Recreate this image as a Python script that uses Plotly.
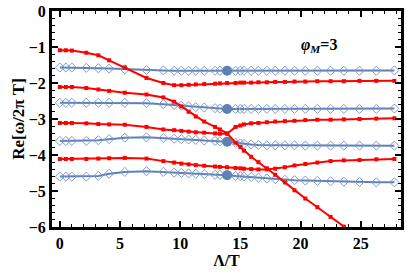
import plotly.graph_objects as go

lam = [0, 0.5, 1.0, 2.2, 3.2, 4.1, 5.4, 7.2, 8.6, 9.5, 10.1, 10.7, 11.3, 12.0, 12.9, 13.3, 13.9,
       14.6, 15.0, 15.3, 15.9, 16.5, 17.2, 17.9, 18.7, 19.5, 20.4, 21.4, 22.5, 23.6, 24.9, 26.3, 27.8]

blue1 = [-1.57, -1.57, -1.57, -1.58, -1.59, -1.60, -1.62, -1.64, -1.65, -1.66, -1.66, -1.66, -1.66,
         -1.66, -1.66, -1.66, -1.66, -1.66, -1.66, -1.66, -1.66, -1.66, -1.66, -1.66, -1.66, -1.66,
         -1.66, -1.66, -1.66, -1.66, -1.66, -1.66, -1.65]
blue2 = [-2.55, -2.55, -2.55, -2.55, -2.55, -2.55, -2.55, -2.56, -2.59, -2.61, -2.63, -2.65, -2.67,
         -2.68, -2.70, -2.71, -2.72, -2.72, -2.72, -2.72, -2.72, -2.72, -2.72, -2.72, -2.72, -2.72,
         -2.72, -2.72, -2.72, -2.72, -2.72, -2.72, -2.71]
blue3 = [-3.61, -3.61, -3.61, -3.61, -3.59, -3.56, -3.52, -3.51, -3.53, -3.55, -3.56, -3.57, -3.58,
         -3.60, -3.61, -3.62, -3.63, -3.66, -3.68, -3.69, -3.71, -3.72, -3.73, -3.73, -3.73, -3.73,
         -3.74, -3.74, -3.74, -3.74, -3.74, -3.74, -3.74]
blue4 = [-4.60, -4.60, -4.60, -4.60, -4.58, -4.52, -4.47, -4.45, -4.47, -4.49, -4.50, -4.51, -4.52,
         -4.53, -4.55, -4.55, -4.56, -4.58, -4.59, -4.60, -4.61, -4.63, -4.65, -4.67, -4.69, -4.70,
         -4.71, -4.72, -4.73, -4.74, -4.75, -4.76, -4.76]

red1 = [-1.09, -1.09, -1.10, -1.16, -1.23, -1.37, -1.57, -1.86, -2.00, -2.06, -2.06, -2.05, -2.04,
        -2.03, -2.02, -2.01, -2.00, -2.00, -1.99, -1.99, -1.99, -1.98, -1.98, -1.97, -1.97, -1.96,
        -1.96, -1.95, -1.95, -1.95, -1.94, -1.94, -1.94]
red2 = [-2.11, -2.11, -2.11, -2.14, -2.18, -2.22, -2.27, -2.32, -2.40, -2.52, -2.65, -2.80, -2.93,
        -3.07, -3.22, -3.29, -3.40, -3.66, -3.78, -3.88, -4.05, -4.20, -4.37, -4.55, -4.76, -4.98,
        -5.21, -5.45, -5.72, -5.99, -6.30]
red3 = [-3.11, -3.11, -3.11, -3.12, -3.14, -3.15, -3.16, -3.22, -3.29, -3.31, -3.33, -3.35, -3.37,
        -3.38, -3.40, -3.41, -3.41, -3.22, -3.18, -3.15, -3.12, -3.11, -3.09, -3.07, -3.06, -3.05,
        -3.03, -3.02, -3.02, -3.01, -3.00, -2.99, -2.98]
red4 = [-4.11, -4.11, -4.11, -4.11, -4.10, -4.09, -4.08, -4.10, -4.17, -4.21, -4.24, -4.26, -4.28,
        -4.30, -4.32, -4.33, -4.34, -4.36, -4.37, -4.38, -4.39, -4.40, -4.40, -4.38, -4.34, -4.29,
        -4.25, -4.21, -4.17, -4.15, -4.14, -4.12, -4.11]

lam_mark = 13.9

x_ticks = [0, 5, 10, 15, 20, 25]
y_ticks = [0, -1, -2, -3, -4, -5, -6]

BLUE = "#5E81B5"
BLUE_M = "#7F9CCC"
RED = "#FF0000"
FONT = "Liberation Serif"


def lbl(v):
    s = str(v).replace("-", "\u2212")
    return "<b>" + s + "</b>"


fig = go.Figure()
for ys in [blue1, blue2, blue3, blue4]:
    fig.add_trace(go.Scatter(x=lam, y=ys, mode="lines+markers",
                             line=dict(color=BLUE, width=2),
                             marker=dict(symbol="diamond-open", size=7,
                                         color=BLUE_M, line=dict(width=1, color=BLUE_M))))
idx = lam.index(lam_mark)
fig.add_trace(go.Scatter(x=[lam_mark] * 4, y=[b[idx] for b in [blue1, blue2, blue3, blue4]],
                         mode="markers", marker=dict(symbol="circle", size=10, color=BLUE)))
for ys in [red1, red2, red3, red4]:
    fig.add_trace(go.Scatter(x=lam[:len(ys)], y=ys, mode="lines+markers",
                             line=dict(color=RED, width=2),
                             marker=dict(symbol="square", size=4, color=RED)))

axis_common = dict(showline=True, linecolor="black", linewidth=3, mirror="ticks",
                   ticks="inside", tickcolor="black", tickwidth=1.5, ticklen=6,
                   showgrid=False, zeroline=False, tickmode="array",
                   tickfont=dict(family=FONT, size=16, color="black"))

fig.update_xaxes(range=[-0.65, 28.35], tickvals=x_ticks, ticktext=[lbl(v) for v in x_ticks],
                 minor=dict(tickmode="linear", tick0=0, dtick=1, ticks="inside", ticklen=3,
                            tickcolor="black", tickwidth=1.2),
                 title=dict(text="<b>Λ/T</b>", font=dict(family=FONT, size=16, color="black"),
                            standoff=4),
                 **axis_common)
fig.update_yaxes(range=[-6, 0], tickvals=y_ticks, ticktext=[lbl(v) for v in y_ticks],
                 minor=dict(tickmode="linear", tick0=0, dtick=0.2, ticks="inside", ticklen=3,
                            tickcolor="black", tickwidth=1.2),
                 title=dict(text="<b>Re[ω/2π T]</b>", font=dict(family=FONT, size=17, color="black"),
                            standoff=0),
                 **axis_common)

fig.add_annotation(x=21.5, y=-0.97, xref="x", yref="y", showarrow=False,
                   text="<b><i>φ</i><sub><i>M</i></sub>=3</b>",
                   font=dict(family=FONT, size=16, color="black"))

fig.update_layout(width=407, height=279, margin=dict(l=52, r=3, t=10, b=52),
                  plot_bgcolor="white", paper_bgcolor="white", showlegend=False)

fig.write_html("out.html", config={"displayModeBar": False},
               post_script="document.body.style.margin='0';document.body.style.overflow='hidden';")
